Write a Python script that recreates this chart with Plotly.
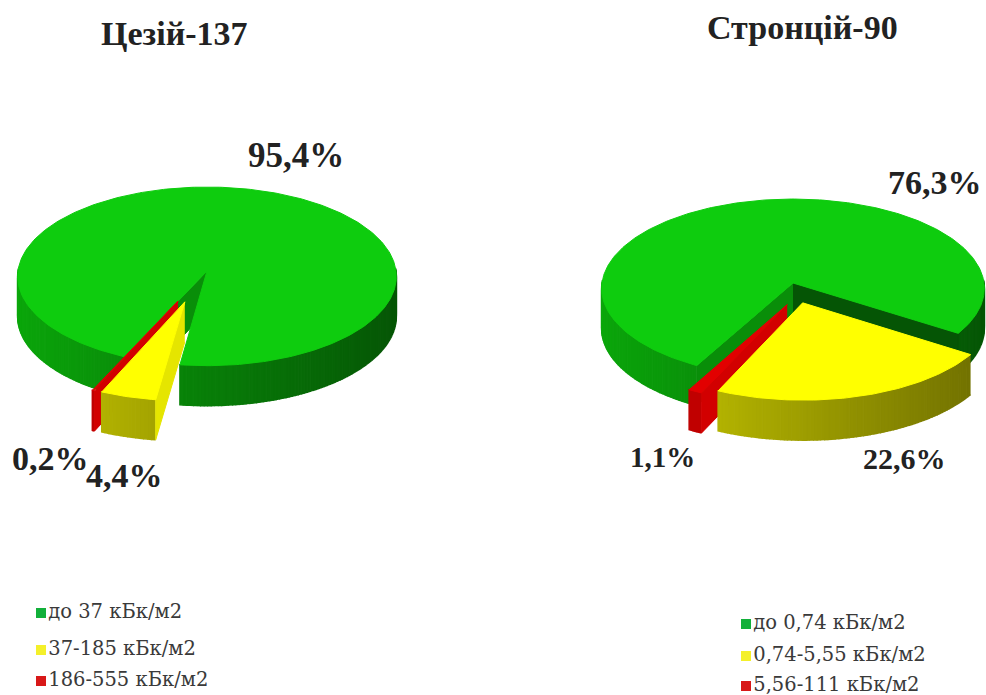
import numpy as np
import plotly.graph_objects as go

# ==========================================================
# Data
# ==========================================================

caesium_title = "Цезій-137"
strontium_title = "Стронцій-90"

caesium_values = [95.4, 4.4, 0.2]
strontium_values = [76.3, 22.6, 1.1]

caesium_legend = ["до 37 кБк/м2", "37-185 кБк/м2", "186-555 кБк/м2"]
strontium_legend = ["до 0,74 кБк/м2", "0,74-5,55 кБк/м2", "5,56-111 кБк/м2"]

slice_colors = [(14, 204, 14), (255, 255, 0), (226, 0, 0)]
legend_colors = ["#12b03a", "#f4f02a", "#d81818"]

# ==========================================================
# Pie geometry (page pixels)
# ==========================================================

RY = 89
PERSPECTIVE = 0.06
DEPTH = 40


def rgb(color, factor=1.0):
    r, g, b = [int(c * factor) for c in color]
    return f"rgb({r},{g},{b})"


def project(pie, u, v):
    s = 1 / (1 - PERSPECTIVE * v)
    return pie["cx"] + pie["rx"] * u * s, pie["cy"] + RY * v * s


def add_poly(fig, xs, ys, color, line_width=1):
    fig.add_trace(go.Scatter(
        x=list(xs),
        y=list(ys),
        mode="lines",
        fill="toself",
        fillcolor=color,
        line=dict(color=color, width=line_width),
        hoverinfo="skip",
        showlegend=False
    ))


def rim_shade(color, u):
    if color == slice_colors[2]:
        return 0.85
    return 0.62 - 0.2 * u


def add_slice(fig, pie, start, sweep, color, offset):
    # angles run clockwise from 12 o'clock
    end = start + sweep
    ou, ov = offset
    angles = np.radians(np.linspace(start, end, max(int(sweep), 4)))
    us = ou + np.sin(angles)
    vs = ov - np.cos(angles)

    # outer wall, cut in small pieces to get the shading
    for i in range(len(angles) - 1):
        if -np.cos(angles[i]) < -0.02 and -np.cos(angles[i + 1]) < -0.02:
            continue
        x0, y0 = project(pie, us[i], vs[i])
        x1, y1 = project(pie, us[i + 1], vs[i + 1])
        add_poly(
            fig,
            [x0, x1, x1, x0],
            [y0, y1, y1 + DEPTH, y0 + DEPTH],
            rgb(color, rim_shade(color, np.sin(angles[i]))),
            line_width=1.5
        )

    # radial walls that face the viewer
    ax, ay = project(pie, ou, ov)
    for edge, side, i in ((start, 1, 0), (end, -1, -1)):
        a = np.radians(edge)
        # normal of the wall, pointing out of the slice
        facing = -side * np.sin(a)
        if facing <= 0:
            continue
        x, y = project(pie, us[i], vs[i])
        if side == -1:
            shade = 0.42
        elif color == slice_colors[1]:
            shade = 0.9
        elif color == slice_colors[2]:
            shade = 0.93
        else:
            shade = 0.7
        add_poly(
            fig,
            [ax, x, x, ax],
            [ay, y, y + DEPTH, ay + DEPTH],
            rgb(color, shade)
        )

    # top
    tx, ty = project(pie, us, vs)
    add_poly(
        fig,
        np.concatenate([[ax], tx, [ax]]),
        np.concatenate([[ay], ty, [ay]]),
        rgb(color)
    )


def add_pie(fig, pie, values):
    sweeps = [v * 3.6 / (sum(values) / 100) for v in values]
    starts = [pie["rotation"]]
    for s in sweeps[:-1]:
        starts.append(starts[-1] + s)

    add_slice(fig, pie, starts[0], sweeps[0], slice_colors[0], (0.0, 0.0))
    add_slice(fig, pie, starts[2], sweeps[2], slice_colors[2], pie["red_offset"])
    add_slice(fig, pie, starts[1], sweeps[1], slice_colors[1], pie["yellow_offset"])


def add_labels(fig, values, positions, sizes):
    for v, (x, y), size in zip(values, positions, sizes):
        text = f"{v}%".replace(".", ",")
        fig.add_annotation(
            x=x,
            y=y,
            text=f"<b>{text}</b>",
            showarrow=False,
            font=dict(family="Liberation Serif", size=size, color="#222222")
        )


def add_legend(fig, labels, x, ys):
    fig.add_trace(go.Scatter(
        x=[x] * len(labels),
        y=ys,
        mode="markers+text",
        text=labels,
        textposition="middle right",
        textfont=dict(family="DejaVu Serif", size=19.5, color="#3a3a3a"),
        marker=dict(symbol="square", size=10, color=legend_colors),
        hoverinfo="skip",
        showlegend=False
    ))


# ==========================================================
# Figure
# ==========================================================

fig = go.Figure()

left_pie = dict(
    cx=207, cy=271, rx=189, rotation=204.3,
    yellow_offset=(-0.115, 0.34),
    red_offset=(-0.15, 0.33)
)
right_pie = dict(
    cx=793, cy=283, rx=191, rotation=208.5,
    yellow_offset=(0.05, 0.22),
    red_offset=(-0.03, 0.24)
)

add_pie(fig, left_pie, caesium_values)
add_pie(fig, right_pie, strontium_values)

add_labels(fig, caesium_values, [(296, 155), (124, 475), (50, 458)], [35, 34, 34])
add_labels(fig, strontium_values, [(935, 182), (904, 458), (662, 457)], [34, 30, 29])

add_legend(fig, caesium_legend, 41, [613, 650, 681])
add_legend(fig, strontium_legend, 746, [624, 656, 686])

for title, x, y in ((caesium_title, 174, 33), (strontium_title, 802, 27)):
    fig.add_annotation(
        x=x,
        y=y,
        text=f"<b>{title}</b>",
        showarrow=False,
        font=dict(family="Liberation Serif", size=34, color="#222222")
    )

fig.update_layout(
    width=986,
    height=695,
    paper_bgcolor="white",
    plot_bgcolor="white",
    margin=dict(l=0, r=0, t=0, b=0),
    xaxis=dict(range=[0, 986], visible=False, fixedrange=True),
    yaxis=dict(range=[695, 0], visible=False, fixedrange=True),
    showlegend=False
)

# the page keeps its default body margin otherwise, which pushes the chart off
fig.write_html(
    "out.html",
    config=dict(displayModeBar=False),
    post_script="document.body.style.margin='0';document.body.style.overflow='hidden';"
)
